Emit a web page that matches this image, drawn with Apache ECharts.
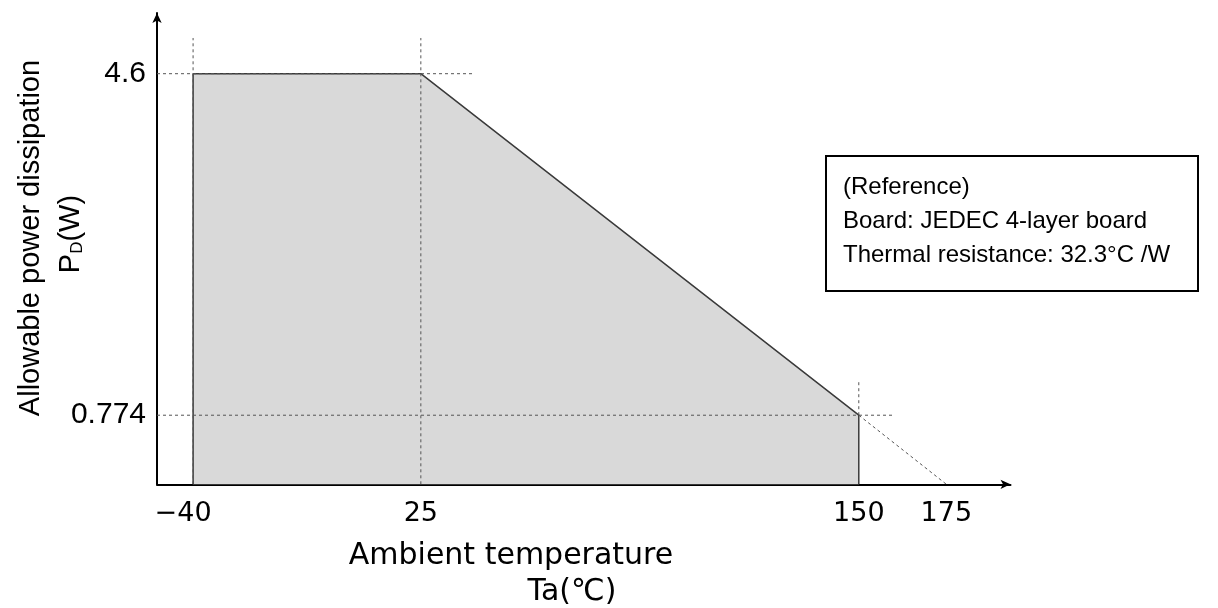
<!DOCTYPE html>
<html>
<head>
<meta charset="utf-8">
<script src="https://cdn.jsdelivr.net/npm/echarts@6/dist/echarts.min.js"></script>
<style>
html,body{margin:0;padding:0;background:#fff;}
#chart{width:1218px;height:608px;}
</style>
</head>
<body>
<div id="chart"></div>
<script>
// ---- data ----
const xTicks = [-40, 25, 150, 175];
const yTicks = [0.774, 4.6];
const curveTemp = [-40, -40, 25, 150, 150];
const curvePower = [0, 4.6, 4.6, 0.774, 0];
const xMin = -50.3, xMax = 193.3;
const yMin = 0, yMax = 5.28;
// reference (dashed) guide segments in data units
const guides = [
  [[-40, 0], [-40, 5.0]],
  [[25, 0], [25, 5.0]],
  [[150, 0.774], [150, 1.15]],
  [[xMin, 4.6], [40, 4.6]],
  [[xMin, 0.774], [160, 0.774]],
  [[150, 0.774], [175, 0]]
];
const noteLines = ['(Reference)', 'Board: JEDEC 4-layer board', 'Thermal resistance: 32.3°C /W'];
const xTitle = ['Ambient temperature', 'Ta(℃)'];
const yTitle = 'Allowable power dissipation';

const SANS = 'Liberation Sans, Arial, sans-serif';
const GOTH = 'DejaVu Sans';

const chart = echarts.init(document.getElementById('chart'), null, {renderer: 'canvas'});

const series = [];
series.push({
  type: 'line',
  data: curveTemp.map((t, i) => [t, curvePower[i]]),
  showSymbol: false,
  silent: true,
  lineStyle: {color: '#3a3a3a', width: 1.5},
  areaStyle: {color: '#d9d9d9', opacity: 1},
  z: 2
});
guides.forEach(seg => {
  series.push({
    type: 'line',
    data: seg,
    showSymbol: false,
    silent: true,
    lineStyle: {color: '#555', width: 1, type: [3, 3]},
    z: 3
  });
});

const graphic = [
  {type: 'text', x: 31, y: 238, rotation: Math.PI / 2,
   style: {text: yTitle, fontSize: 29, fontFamily: SANS, fill: '#000', align: 'center', verticalAlign: 'middle'}},
  {type: 'text', x: 71, y: 234, rotation: Math.PI / 2,
   style: {text: '{p|P}{s|D}{p|(W)}', fill: '#000', align: 'center', verticalAlign: 'middle',
     rich: {p: {fontSize: 29, fontFamily: SANS, fill: '#000'},
            s: {fontSize: 17, fontFamily: SANS, fill: '#000', verticalAlign: 'bottom'}}}},
  {type: 'text', x: 511, y: 556,
   style: {text: xTitle[0], fontSize: 30, fontFamily: GOTH, fill: '#000', align: 'center', verticalAlign: 'middle'}},
  {type: 'text', x: 572, y: 592,
   style: {text: xTitle[1], fontSize: 30, fontFamily: GOTH, fill: '#000', align: 'center', verticalAlign: 'middle'}},
  {type: 'rect', shape: {x: 826, y: 156, width: 372, height: 135},
   style: {fill: '#fff', stroke: '#000', lineWidth: 2}},
  {type: 'text', x: 843, y: 221,
   style: {text: noteLines.join('\n'), fontSize: 24, lineHeight: 34, fontFamily: SANS, fill: '#000', align: 'left', verticalAlign: 'middle'}}
];

chart.setOption({
  animation: false,
  backgroundColor: '#fff',
  grid: {left: 157, right: 1218 - 1010.5, top: 13, bottom: 608 - 484.3, containLabel: false, outerBoundsMode: 'none'},
  xAxis: {
    type: 'value', min: xMin, max: xMax,
    axisLine: {show: true, onZero: false, lineStyle: {color: '#000', width: 2}, symbol: ['none', 'arrow'], symbolSize: [7, 10]},
    axisTick: {show: false},
    splitLine: {show: false},
    axisLabel: {
      customValues: xTicks,
      margin: 16,
      color: '#000', fontSize: 27, fontFamily: GOTH,
      formatter: v => v < 0 ? '{n|−' + Math.abs(v) + '}' : String(v),
      rich: {n: {fontSize: 27, fontFamily: GOTH, color: '#000', padding: [0, 20, 0, 0]}}
    }
  },
  yAxis: {
    type: 'value', min: yMin, max: yMax,
    axisLine: {show: true, onZero: false, lineStyle: {color: '#000', width: 2}, symbol: ['none', 'arrow'], symbolSize: [7, 10]},
    axisTick: {show: false},
    splitLine: {show: false},
    axisLabel: {
      customValues: yTicks,
      margin: 11,
      color: '#000', fontSize: 30, fontFamily: SANS,
      formatter: v => String(v)
    }
  },
  series: series,
  graphic: graphic
});
</script>
</body>
</html>
